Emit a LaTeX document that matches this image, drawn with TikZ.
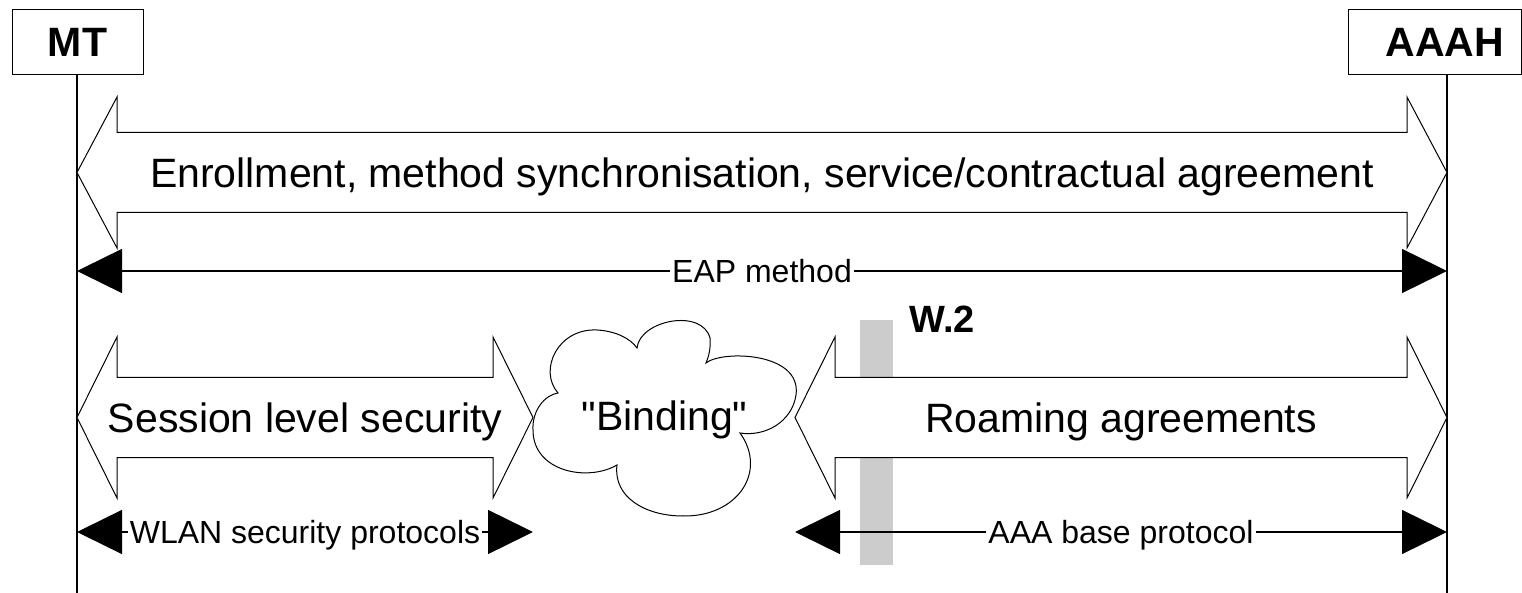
\documentclass[tikz,border=0pt]{standalone}
\usepackage{fontspec}
\setmainfont{Liberation Sans}[Ligatures=TeXOff]
\usetikzlibrary{arrows.meta}
\newcommand{\pxsize}{0.5pt}
\newcommand{\makebigarrow}[6]{
	\draw[bigarrow] (#2,#4) -- (#2+40,#4-#5) -- (#2+40,#4-40) -- (#3-40,#4-40)
		-- (#3-40,#4-#5) -- (#3,#4) -- (#3-40,#4+#5) -- (#3-40,#4+40)
		-- (#2+40,#4+40) -- (#2+40,#4+#5) -- cycle;
	\node[bigtext] (#1) at ({(#2+#3)/2},#4) {#6};
}

\begin{document}
\begin{tikzpicture}[x=\pxsize,y=-\pxsize,
	lifeline/.style={line width=0.8pt},
	actor/.style={draw, fill=white, line width=0.5pt, minimum height=32.5pt, inner sep=0pt,
		font=\bfseries\fontsize{20.5}{24}\selectfont},
	bigarrow/.style={draw, fill=white, line width=0.5pt},
	bigtext/.style={font=\fontsize{20.5}{24}\selectfont, inner sep=0pt, text height=14.7pt, text depth=0pt},
	msg/.style={line width=0.7pt, {Triangle[length=22.5pt,width=22pt]}-{Triangle[length=22.5pt,width=22pt]}},
	msgtext/.style={font=\fontsize{16}{19}\selectfont, fill=white, inner xsep=1pt, inner ysep=0pt,
		text height=11.5pt, text depth=0pt},
	interface/.style={fill=black!20}]
	\useasboundingbox (0,0) rectangle (1522,593);

	% entities
	\node[actor, minimum width=65.5pt] (mt) at (77.5,42.5) {MT};
	\node[actor, minimum width=86.5pt] (aaah) at (1434.5,42.5) {\hspace{10.5pt}AAAH};
	\coordinate (mtend) at (77,593);
	\coordinate (aaahend) at (1447,593);
	\draw[lifeline] (mt.south -| mtend) -- (mtend);
	\draw[lifeline] (aaah.south -| aaahend) -- (aaahend);

	% reference point W.2
	\fill[interface] (860,320) rectangle (893,565);
	\node[font=\bfseries\fontsize{19}{22}\selectfont, anchor=base west, inner sep=0pt] (w2) at (909,333) {W.2};

	% agreements
	\makebigarrow{enroll}{77}{1447}{172.5}{75.5}{Enrollment, method synchronisation, service/contractual agreement}
	\makebigarrow{session}{77}{533}{417.5}{80.5}{Session level security}
	\makebigarrow{roaming}{795}{1447}{417.5}{80.5}{Roaming agreements}

	% binding cloud
	\draw[bigarrow] (558,393) .. controls (538,370) and (558,328) .. (597,330)
		.. controls (615,331) and (630,338) .. (637,348)
		.. controls (640,320) and (702,308) .. (710,338)
		.. controls (711,350) and (708,358) .. (706,363)
		.. controls (722,350) and (802,352) .. (796,395)
		.. controls (792,422) and (765,437) .. (740,433)
		.. controls (768,472) and (737,517) .. (683,516)
		.. controls (645,516) and (613,497) .. (617,465)
		.. controls (588,482) and (533,472) .. (533,430)
		.. controls (532,410) and (545,395) .. (558,393) -- cycle;
	\node[bigtext] (binding) at (664.5,416) {"Binding"};

	% protocols
	\coordinate (eapL) at (77,271);
	\coordinate (eapR) at (1447,271);
	\coordinate (wlanL) at (77,532);
	\coordinate (wlanR) at (533,532);
	\coordinate (aaaL) at (795,532);
	\coordinate (aaaR) at (1447,532);
	\draw[msg] (eapL) -- (eapR) node[msgtext, midway] (eap) {EAP method};
	\draw[msg] (wlanL) -- (wlanR) node[msgtext, midway] (wlan) {WLAN security protocols};
	\draw[msg] (aaaL) -- (aaaR) node[msgtext, midway] (aaa) {AAA base protocol};

\end{tikzpicture}
\end{document}
